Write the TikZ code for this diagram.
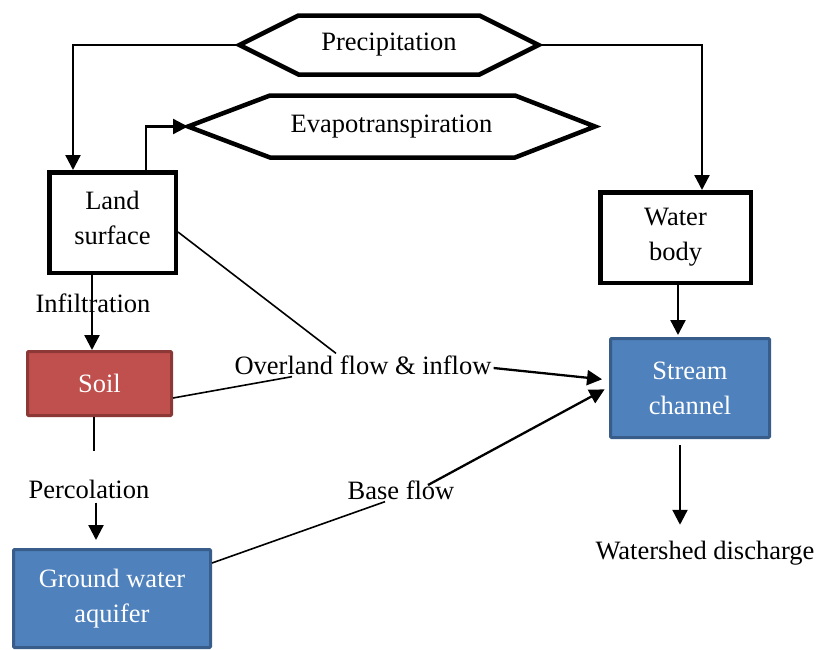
\documentclass[tikz,border=0pt]{standalone}
\usepackage{fontspec}
\setmainfont{Liberation Serif}
\usetikzlibrary{arrows.meta,calc}

\definecolor{soilred}{HTML}{C0504D}
\definecolor{soilrim}{HTML}{8C3836}
\definecolor{waterblue}{HTML}{4F81BD}
\definecolor{waterrim}{HTML}{385D8A}

\begin{document}
\begin{tikzpicture}[x=1pt, y=-1pt,
  every node/.style={font=\fontsize{26.5}{35}\selectfont},
  plain/.style={draw, line width=4.5pt, align=center, inner sep=0pt},
  filled/.style={draw, line width=3pt, align=center, text=white, inner sep=0pt, rounded corners=1pt},
  hexa/.style={line width=4.5pt, line join=miter},
  hexlbl/.style={inner sep=0pt, outer sep=0pt},
  lbl/.style={inner sep=2pt},
  link/.style={line width=1.6pt},
  flow/.style={-{Triangle[length=15pt,width=15pt]}, line width=2.3pt},
]
\useasboundingbox (0,0) rectangle (817,649);

\node[hexlbl, minimum width=299pt, minimum height=59pt] (precip) at (389,45) {Precipitation};
\draw[hexa] (precip.west) -- ([xshift=59pt]precip.north west) -- ([xshift=-59pt]precip.north east)
  -- (precip.east) -- ([xshift=-59pt]precip.south east) -- ([xshift=59pt]precip.south west) -- cycle;

\node[hexlbl, minimum width=407pt, minimum height=62pt] (evapo) at (391.5,126.5) {Evapotranspiration};
\draw[hexa] (evapo.west) -- ([xshift=82pt]evapo.north west) -- ([xshift=-80pt]evapo.north east)
  -- (evapo.east) -- ([xshift=-80pt]evapo.south east) -- ([xshift=82pt]evapo.south west) -- cycle;

\node[plain, minimum width=126.5pt, minimum height=100.5pt] (land) at (112.5,222.5) {Land\\surface\rule[-9pt]{0pt}{9pt}};
\node[plain, minimum width=150.5pt, minimum height=90.5pt] (water) at (675.5,237.5) {Water\\body};
\node[filled, fill=soilred, draw=soilrim, minimum width=144pt, minimum height=64pt] (soil) at (99.5,383.5) {Soil};
\node[filled, fill=waterblue, draw=waterrim, minimum width=159pt, minimum height=99pt] (stream) at (690,388) {Stream\\channel};
\node[filled, fill=waterblue, draw=waterrim, minimum width=197pt, minimum height=98pt] (ground) at (112,598.5) {Ground water\\aquifer};

\node[lbl] (infil) at (93,303) {Infiltration};
\node[lbl] (perc) at (89,489) {Percolation};
\node[lbl] (overland) at (363,365) {Overland flow \& inflow};
\node[lbl] (base) at (401,490) {Base flow};
\node[lbl] (discharge) at (705,553) {Watershed discharge};

\draw[flow] (precip.west) -| ([xshift=-39.5pt]land.north);
\draw[flow] (precip.east) -| ([xshift=26.5pt]water.north);
\draw[flow] ([xshift=33.5pt]land.north) |- (evapo.west);
\draw[flow] ([xshift=-20.5pt]land.south) -- ([xshift=-7.5pt]soil.north);
\draw[link, shorten >=26pt] ([xshift=-5.5pt]soil.south) -- ([xshift=5pt]perc.north);
\draw[flow, shorten <=2pt, shorten >=8pt] ([xshift=7pt]perc.south) -- ([xshift=-16pt]ground.north);
\draw[link] ([yshift=-9.5pt]land.east) -- ([xshift=-27pt]overland.north);
\draw[link] ([yshift=-14.5pt]soil.east) -- ([xshift=-71pt]overland.south);
\draw[flow, shorten >=7pt] ([yshift=-3pt]overland.east) -- ([yshift=8pt]stream.west);
\draw[link] ([yshift=35.5pt]ground.east) -- ([xshift=-16pt]base.south);
\draw[flow, shorten >=5pt] ([xshift=27pt,yshift=5pt]base.center) -- ([yshift=1pt]stream.west);
\draw[flow, shorten >=2pt] ([xshift=2.5pt]water.south) -- ([xshift=-12pt]stream.north);
\draw[flow, shorten <=6pt, shorten >=14pt] ([xshift=-10pt]stream.south) -- ([xshift=-25pt]discharge.north);
\end{tikzpicture}
\end{document}
